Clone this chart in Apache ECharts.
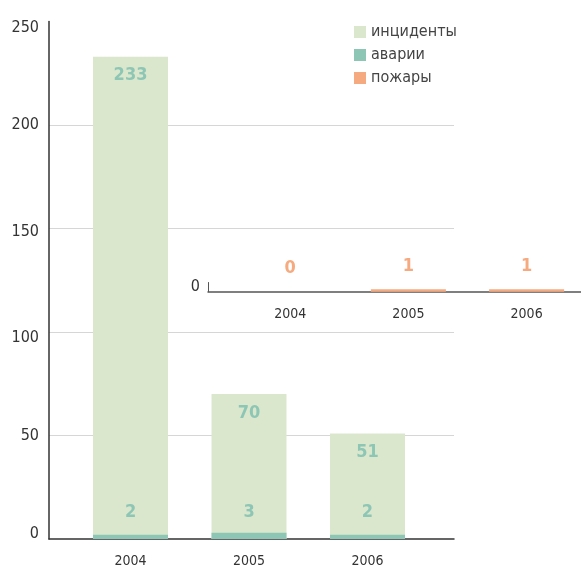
<!DOCTYPE html>
<html>
<head>
<meta charset="utf-8">
<script src="https://cdn.jsdelivr.net/npm/echarts@6/dist/echarts.min.js"></script>
<style>
  html, body { margin: 0; padding: 0; background: #fff; }
  #chart { width: 581px; height: 565px; }
</style>
</head>
<body>
<div id="chart"></div>
<script>
// Yearly counts
const years = [2004, 2005, 2006];
const yearLabels = ['2004', '2005', '2006'];
const incidents = [233, 70, 51];   // инциденты
const accidents = [2, 3, 2];       // аварии
const fires = [0, 1, 1];           // пожары
const mainTicks = [0, 50, 100, 150, 200, 250];

const FONT = '"Liberation Sans Narrow", "DejaVu Sans Condensed", "Roboto", sans-serif';
const C_INC = '#dbe7cd';
const C_ACC = '#8dc6b5';
const C_FIRE = '#f6aa80';

// small per-tick nudges for the left axis labels
const tickStyle = { 0: 'up', 100: 'dn2', 150: 'dn1', 250: 'dn2' };
const yRich = {
  up:  { fontFamily: FONT, fontSize: 16, color: '#333', padding: [0, 0, 10, 0] },
  dn1: { fontFamily: FONT, fontSize: 16, color: '#333', padding: [6, 0, 0, 0] },
  dn2: { fontFamily: FONT, fontSize: 16, color: '#333', padding: [12, 0, 0, 0] },
  n:   { fontFamily: FONT, fontSize: 16, color: '#333' }
};

const chart = echarts.init(document.getElementById('chart'), null, { renderer: 'canvas' });

const pairs = arr => arr.map((v, i) => [years[i], v]);
const yearFmt = v => yearLabels[years.indexOf(Math.round(v))] || '';

chart.setOption({
  animation: false,
  backgroundColor: '#fff',
  legend: {
    data: ['инциденты', 'аварии', 'пожары'],
    orient: 'vertical',
    left: 349,
    top: 18,
    itemWidth: 12,
    itemHeight: 12,
    itemGap: 5,
    icon: 'rect',
    textStyle: { fontFamily: FONT, fontSize: 16, lineHeight: 18, color: '#444' }
  },
  grid: [
    { left: 49, top: 21.5, width: 405, height: 517.5, outerBoundsMode: 'none', containLabel: false },
    { left: 208, top: 282.5, width: 373, height: 9.2, outerBoundsMode: 'none', containLabel: false }
  ],
  xAxis: [
    {
      gridIndex: 0, type: 'value', min: 2003.312, max: 2006.73,
      axisLine: { show: true, lineStyle: { color: '#333', width: 1.5 } },
      axisTick: { show: false },
      splitLine: { show: false },
      axisLabel: {
        customValues: years, formatter: yearFmt,
        fontFamily: FONT, fontSize: 14, color: '#333', margin: 15
      }
    },
    {
      gridIndex: 1, type: 'value', min: 2003.305, max: 2006.46,
      axisLine: { show: true, lineStyle: { color: '#555', width: 1.5 } },
      axisTick: { show: false },
      splitLine: { show: false },
      axisLabel: {
        customValues: years, formatter: yearFmt,
        fontFamily: FONT, fontSize: 14, color: '#333', margin: 16
      }
    }
  ],
  yAxis: [
    {
      gridIndex: 0, type: 'value', min: 0, max: 250, interval: 50,
      axisLine: { show: true, lineStyle: { color: '#333', width: 1.5 } },
      axisTick: { show: false },
      splitLine: {
        show: true, lineStyle: { color: '#d6d6d6', width: 1.2 },
        showMinLine: false, showMaxLine: false
      },
      axisLabel: {
        customValues: mainTicks,
        formatter: v => '{' + (tickStyle[v] || 'n') + '|' + v + '}',
        rich: yRich,
        fontFamily: FONT, fontSize: 16, color: '#333', margin: 10
      }
    },
    {
      gridIndex: 1, type: 'value', min: 0, max: 3.6,
      axisLine: { show: true, lineStyle: { color: '#555', width: 1 } },
      axisTick: { show: false },
      splitLine: { show: false },
      axisLabel: {
        customValues: [0],
        formatter: v => '{up|' + v + '}',
        rich: yRich,
        fontFamily: FONT, fontSize: 16, color: '#333', margin: 8
      }
    }
  ],
  series: [
    {
      name: 'инциденты', type: 'bar', xAxisIndex: 0, yAxisIndex: 0,
      data: pairs(incidents), barWidth: 75, barGap: '-100%', z: 3,
      itemStyle: { color: C_INC },
      label: {
        show: true, position: 'insideTop', distance: 10,
        fontFamily: FONT, fontWeight: 'bold', fontSize: 18, color: C_ACC,
        formatter: p => p.value[1]
      }
    },
    {
      name: 'аварии', type: 'bar', xAxisIndex: 0, yAxisIndex: 0,
      data: pairs(accidents), barWidth: 75, barGap: '-100%', z: 4,
      itemStyle: { color: C_ACC },
      label: {
        show: true, position: 'insideBottom', distance: 18,
        fontFamily: FONT, fontWeight: 'bold', fontSize: 18, color: C_ACC,
        formatter: p => p.value[1]
      }
    },
    {
      name: 'пожары', type: 'bar', xAxisIndex: 1, yAxisIndex: 1,
      data: pairs(fires), barWidth: 75, z: 5,
      itemStyle: { color: C_FIRE },
      label: {
        show: true, position: 'top', distance: 14,
        fontFamily: FONT, fontWeight: 'bold', fontSize: 18, color: C_FIRE,
        formatter: p => p.value[1]
      }
    }
  ]
});
</script>
</body>
</html>
